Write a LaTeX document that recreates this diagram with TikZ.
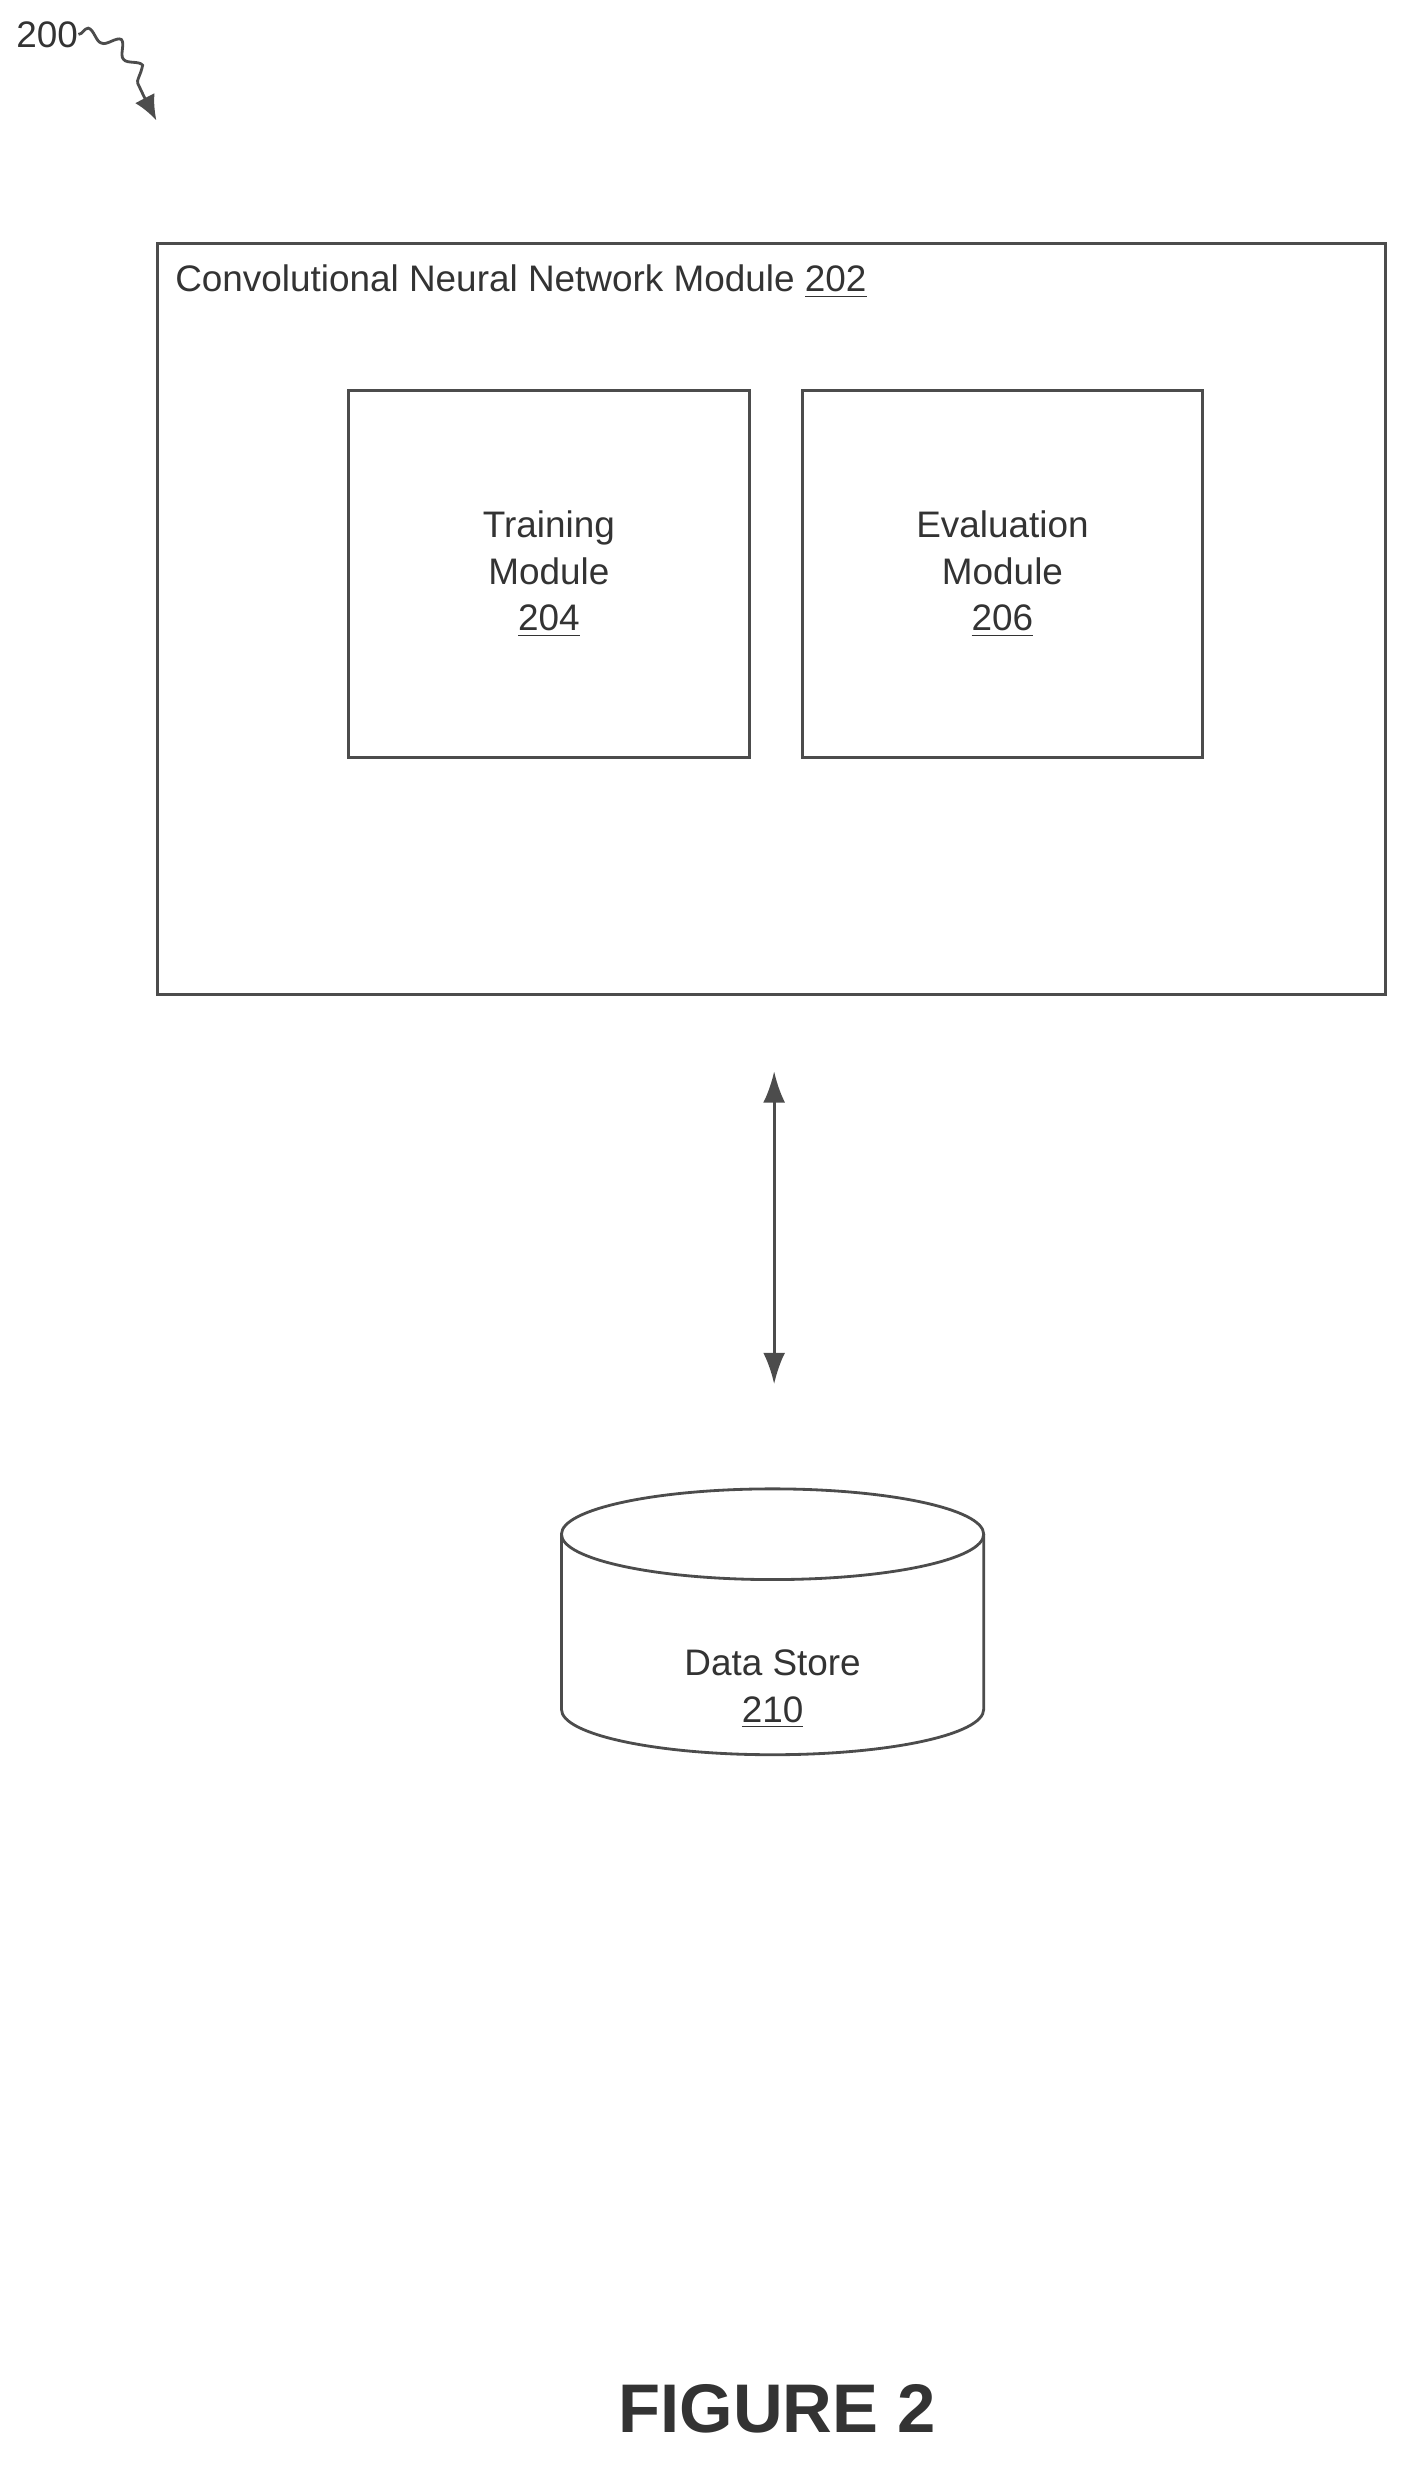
\documentclass[tikz,border=0pt]{standalone}
\usepackage{fontspec}
\setmainfont{Liberation Sans}
\usetikzlibrary{arrows.meta,decorations.pathmorphing}
\begin{document}
\begin{tikzpicture}[x=0.5pt,y=-0.5pt]
\tikzset{box/.style = {draw=black!70,line width=0.9pt}}
\tikzset{label/.style = {font=\fontsize{11.8}{15}\selectfont,align=center,text=black!80}}
\tikzset{edge/.style = {{Latex[length=10pt,width=7pt]}-{Latex[length=10pt,width=7pt]},draw=black!70,line width=0.9pt}}
\useasboundingbox (0,0) rectangle (905,1580);
% figure reference
\node[label,anchor=west,inner sep=0] (fig) at (10,22) {200};
\coordinate (figtip) at (100,77);
\draw[black!70,line width=0.9pt,-{Latex[length=8pt,width=7pt]},decorate,decoration={snake,amplitude=2pt,segment length=10pt,post length=9pt}] (fig.east) to[out=0,in=120] (figtip);
% modules
\node[box,minimum width=392.5pt,minimum height=240pt,anchor=north west] (cnn) at (100,155) {};
\node[label,anchor=west] (title) at (105,180) {Convolutional Neural Network Module \underline{202}};
\node[box,label,minimum width=128pt,minimum height=117.5pt] (train) at (351,367) {Training\\Module\\\underline{204}};
\node[box,label,minimum width=128pt,minimum height=117.5pt] (eval) at (641,367) {Evaluation\\Module\\\underline{206}};
% data store
\draw[box] (359,981) -- (359,1093) arc[start angle=180,end angle=0,x radius=135,y radius=29] -- (629,981);
\draw[box] (494,981) ellipse[x radius=135,y radius=29];
\node[label] (store) at (494,1080) {Data Store\\\underline{210}};
\coordinate (atop) at (495,685);
\coordinate (abot) at (495,885);
\draw[edge] (atop) -- (abot);
\node[font=\fontsize{22}{26}\selectfont\bfseries,text=black!80] (caption) at (497,1540) {FIGURE 2};
\end{tikzpicture}
\end{document}
